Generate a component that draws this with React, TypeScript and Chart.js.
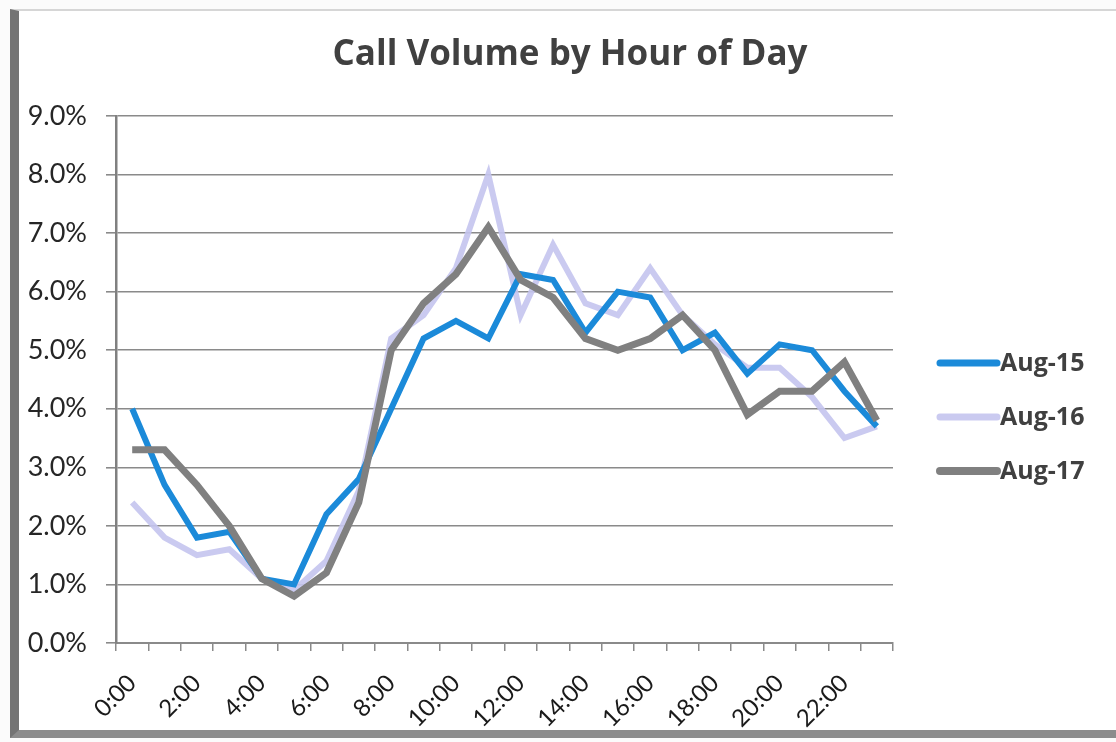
import React, { useEffect, useRef } from 'react';
import { Chart, registerables } from 'chart.js';

Chart.register(...registerables);

const hourLabels = [
  '0:00', '1:00', '2:00', '3:00', '4:00', '5:00', '6:00', '7:00',
  '8:00', '9:00', '10:00', '11:00', '12:00', '13:00', '14:00', '15:00',
  '16:00', '17:00', '18:00', '19:00', '20:00', '21:00', '22:00', '23:00',
];

const seriesNames = ['Aug-15', 'Aug-16', 'Aug-17'];

const aug15 = [4.0, 2.7, 1.8, 1.9, 1.1, 1.0, 2.2, 2.8, 4.0, 5.2, 5.5, 5.2, 6.3, 6.2, 5.3, 6.0, 5.9, 5.0, 5.3, 4.6, 5.1, 5.0, 4.3, 3.7];
const aug16 = [2.4, 1.8, 1.5, 1.6, 1.1, 0.9, 1.4, 2.6, 5.2, 5.6, 6.4, 8.0, 5.6, 6.8, 5.8, 5.6, 6.4, 5.6, 5.1, 4.7, 4.7, 4.2, 3.5, 3.7];
const aug17 = [3.3, 3.3, 2.7, 2.0, 1.1, 0.8, 1.2, 2.4, 5.0, 5.8, 6.3, 7.1, 6.2, 5.9, 5.2, 5.0, 5.2, 5.6, 5.0, 3.9, 4.3, 4.3, 4.8, 3.8];

const yMin = 0;
const yMax = 9;
const yStep = 1;

const FONT = 'Lato, "Open Sans", "DejaVu Sans", sans-serif';
const BOLD_FONT = '"Open Sans", Lato, "DejaVu Sans", sans-serif';

const sideLegend = {
  id: 'sideLegend',
  afterDraw(chart: any) {
    const { ctx, chartArea } = chart;
    const x0 = chartArea.right + 47;
    const x1 = chartArea.right + 104;
    const yStart = chartArea.top + 247;
    const gap = 54;
    ctx.save();
    chart.data.datasets.forEach((ds: any, i: number) => {
      const y = yStart + i * gap;
      ctx.strokeStyle = ds.borderColor;
      ctx.lineWidth = ds.borderWidth + 1;
      ctx.lineCap = 'round';
      ctx.beginPath();
      ctx.moveTo(x0, y);
      ctx.lineTo(x1, y);
      ctx.stroke();
      ctx.fillStyle = '#404040';
      ctx.font = `bold 25px ${BOLD_FONT}`;
      ctx.textAlign = 'left';
      ctx.textBaseline = 'middle';
      ctx.fillText(ds.label, x1 + 3, y + 1);
    });
    ctx.restore();
  },
};

export default function App() {
  const canvasRef = useRef<HTMLCanvasElement | null>(null);

  useEffect(() => {
    if (!canvasRef.current) return;
    const chart = new Chart(canvasRef.current, {
      type: 'line',
      data: {
        labels: hourLabels,
        datasets: [
          {
            label: seriesNames[0],
            data: aug15,
            borderColor: '#1b8ad9',
            backgroundColor: '#1b8ad9',
            borderWidth: 6,
            pointRadius: 0,
            tension: 0,
            order: 1,
          },
          {
            label: seriesNames[1],
            data: aug16,
            borderColor: 'rgba(196,196,238,0.9)',
            backgroundColor: 'rgba(196,196,238,0.9)',
            borderWidth: 6,
            pointRadius: 0,
            tension: 0,
            order: 2,
          },
          {
            label: seriesNames[2],
            data: aug17,
            borderColor: '#808080',
            backgroundColor: '#808080',
            borderWidth: 7,
            pointRadius: 0,
            tension: 0,
            order: 0,
          },
        ],
      },
      options: {
        responsive: false,
        animation: false,
        layout: { padding: { left: 26, right: 2, top: 0, bottom: 0 } },
        plugins: {
          legend: { display: false },
          tooltip: { enabled: false },
          title: {
            display: true,
            text: 'Call Volume by Hour of Day',
            color: '#404040',
            font: { family: BOLD_FONT, size: 35, weight: 'bold', lineHeight: 1.2 },
            padding: { top: 34, bottom: 40 },
          },
        },
        scales: {
          x: {
            type: 'category',
            offset: true,
            grid: {
              offset: true,
              drawOnChartArea: false,
              drawTicks: true,
              tickLength: 8,
              color: '#8a8a8a',
              lineWidth: 1.5,
            },
            border: { display: true, color: '#8a8a8a', width: 2 },
            ticks: {
              autoSkip: false,
              maxRotation: 45,
              minRotation: 45,
              padding: 18,
              color: '#1a1a1a',
              font: { family: FONT, size: 24 },
              callback: (_v: any, i: number) => (i % 2 === 0 ? hourLabels[i] : ''),
            },
            afterFit: (s: any) => {
              s.height = 99;
            },
          },
          y: {
            min: yMin,
            max: yMax,
            ticks: {
              stepSize: yStep,
              padding: 19,
              color: '#262626',
              font: { family: FONT, size: 27 },
              callback: (v: any) => Number(v).toFixed(1) + '%',
            },
            grid: { color: '#8a8a8a', lineWidth: 1.6, tickLength: 10, drawTicks: true },
            border: { display: true, color: '#808080', width: 2.5 },
            afterFit: (s: any) => {
              s.width = 90;
            },
          },
          legendSpace: {
            type: 'linear',
            position: 'right',
            display: true,
            min: yMin,
            max: yMax,
            grid: { display: false, drawOnChartArea: false },
            border: { display: false },
            ticks: { display: false },
            afterFit: (s: any) => {
              s.width = 221;
            },
          },
        },
      },
      plugins: [sideLegend],
    } as any);
    return () => chart.destroy();
  }, []);

  return (
    <div style={{ position: 'fixed', left: 0, top: 0, width: 1116, height: 742, background: '#fbfbfb', overflow: 'hidden' }}>
      <div
        style={{
          position: 'absolute',
          left: 10,
          top: 9,
          right: -6,
          bottom: 4,
          background: '#ffffff',
          borderLeft: '9px solid #747474',
          borderTop: '2px solid #d6d6d6',
          borderBottom: '8px solid #8c8c8c',
        }}
      />
      <canvas ref={canvasRef} width={1116} height={742} style={{ position: 'absolute', left: 0, top: 0 }} />
    </div>
  );
}
